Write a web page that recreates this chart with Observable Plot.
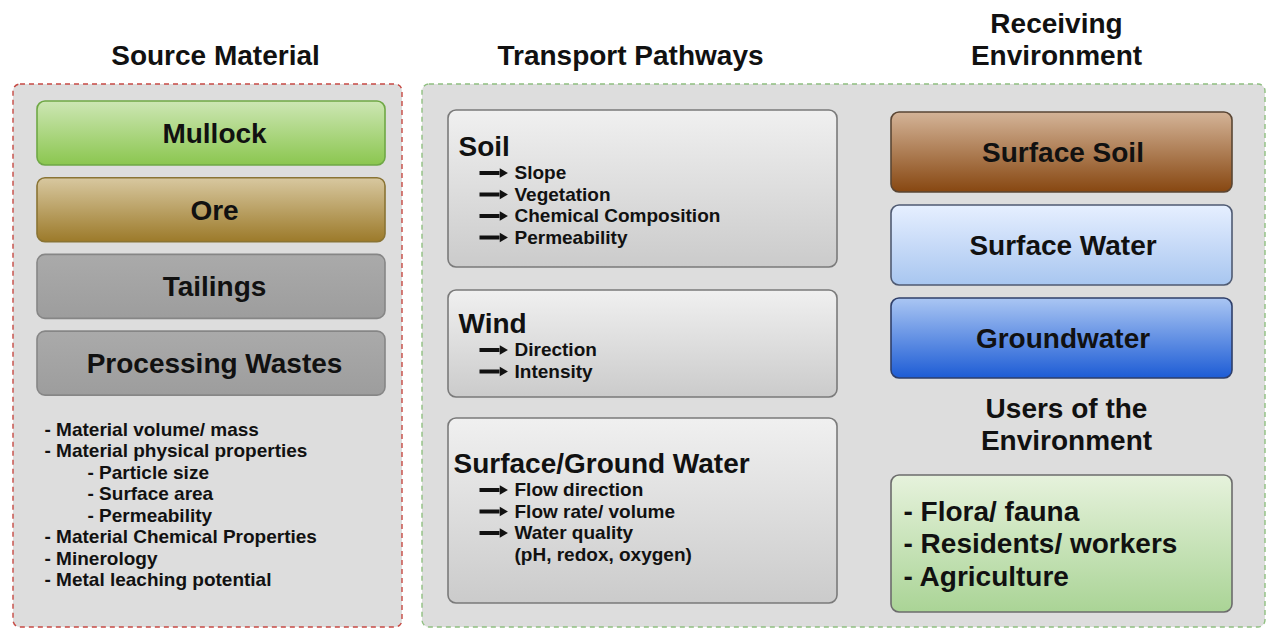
<!DOCTYPE html>
<html><head><meta charset="utf-8">
<script src="https://cdn.jsdelivr.net/npm/d3@7"></script>
<script src="https://cdn.jsdelivr.net/npm/@observablehq/plot@0.6"></script>
<style>html,body{margin:0;padding:0;background:#fff;overflow:hidden}</style>
</head><body><div id="chart"></div>
<script>
// ---------------- data ----------------
const columnTitles = ["Source Material", "Transport Pathways", "Receiving\nEnvironment"];
const sourceMaterials = ["Mullock", "Ore", "Tailings", "Processing Wastes"];
const sourceProperties = ["- Material volume/ mass", "- Material physical properties", "- Particle size", "- Surface area", "- Permeability", "- Material Chemical Properties", "- Minerology", "- Metal leaching potential"];
const sourcePropertyLevel = [0, 0, 1, 1, 1, 0, 0, 0];
const pathwayNames = ["Soil", "Wind", "Surface/Ground Water"];
const soilFactors = ["Slope", "Vegetation", "Chemical Composition", "Permeability"];
const windFactors = ["Direction", "Intensity"];
const waterFactors = ["Flow direction", "Flow rate/ volume", "Water quality"];
const waterNote = "(pH, redox, oxygen)";
const receivingMedia = ["Surface Soil", "Surface Water", "Groundwater"];
const usersTitle = "Users of the\nEnvironment";
const environmentUsers = ["- Flora/ fauna", "- Residents/ workers", "- Agriculture"];

// ---------------- layout & style ----------------
const W = 1267, H = 628;
const font = "Liberation Sans, Arial, Helvetica, sans-serif";
const ink = "#111";
const big = 28, small = 19;
const titleX = [215, 630, 1056], titleY = [54, 54, 38];
const panels = [
  {x1: 13, x2: 402, y1: 84, y2: 627, stroke: "#c64a44"},
  {x1: 422, x2: 1265, y1: 84, y2: 627, stroke: "#8fbf80"}
];
const srcBox = {x1: 37, x2: 385, y1: 101, step: 76.7, h: 64};
const srcFill = ["url(#g-mullock)", "url(#g-ore)", "url(#g-tail)", "url(#g-tail)"];
const srcStroke = ["#6fa845", "#8a7434", "#868686", "#868686"];
const propX = [44, 87], propY0 = 428.5, propStep = 21.45;
const pathBoxes = [{y1: 110, y2: 267, ty: 145, tx: 458}, {y1: 290, y2: 397, ty: 322, tx: 458}, {y1: 418, y2: 603, ty: 462, tx: 453}];
const pathFactors = [soilFactors, windFactors, waterFactors];
const pathX1 = 448, pathX2 = 837, itemX = 514, itemGap = 26.5, itemStep = 21.5;
const arrowX1 = 479, arrowX2 = 499, headX = 502;
const recvBox = {x1: 891, x2: 1232, y1: 112, step: 93, h: 80};
const recvFill = ["url(#g-soil)", "url(#g-sw)", "url(#g-gw)"];
const recvStroke = ["#5a4634", "#4f5a72", "#2f3f6a"];
const usersBox = {x1: 891, x2: 1232, y1: 475, y2: 612};
const usersTitleX = 1066, usersTitleY = 423.5, usersItemX = 903, usersY0 = 510, usersStep = 32.5;

// ---------------- build tables ----------------
const boxes = [];
const texts = [];
const arrows = [];
sourceMaterials.forEach((name, i) => {
  const y1 = srcBox.y1 + i * srcBox.step;
  boxes.push({x1: srcBox.x1, x2: srcBox.x2, y1, y2: y1 + srcBox.h, fill: srcFill[i], stroke: srcStroke[i]});
  texts.push({x: (srcBox.x1 + srcBox.x2) / 2 + 3, y: y1 + srcBox.h / 2 - 1, text: name, size: big, anchor: "middle"});
});
sourceProperties.forEach((p, i) => {
  texts.push({x: propX[sourcePropertyLevel[i]], y: propY0 + i * propStep, text: p, size: small, anchor: "start"});
});
pathwayNames.forEach((name, i) => {
  const b = pathBoxes[i];
  boxes.push({x1: pathX1, x2: pathX2, y1: b.y1, y2: b.y2, fill: "url(#g-path)", stroke: "#7a7a7a"});
  texts.push({x: b.tx, y: b.ty, text: name, size: big, anchor: "start"});
  pathFactors[i].forEach((f, j) => {
    const y = b.ty + itemGap + j * itemStep;
    texts.push({x: itemX, y, text: f, size: small, anchor: "start"});
    arrows.push({x1: arrowX1, x2: arrowX2, hx: headX, y: y + 1});
  });
  if (i === 2) texts.push({x: itemX, y: b.ty + itemGap + pathFactors[i].length * itemStep, text: waterNote, size: small, anchor: "start"});
});
receivingMedia.forEach((name, i) => {
  const y1 = recvBox.y1 + i * recvBox.step;
  boxes.push({x1: recvBox.x1, x2: recvBox.x2, y1, y2: y1 + recvBox.h, fill: recvFill[i], stroke: recvStroke[i]});
  texts.push({x: (recvBox.x1 + recvBox.x2) / 2 + 1, y: y1 + recvBox.h / 2 - 1, text: name, size: big, anchor: "middle"});
});
boxes.push({...usersBox, fill: "url(#g-users)", stroke: "#6c6c6c"});
texts.push({x: usersTitleX, y: usersTitleY, text: usersTitle, size: big, anchor: "middle"});
environmentUsers.forEach((u, i) => texts.push({x: usersItemX, y: usersY0 + i * usersStep, text: u, size: big, anchor: "start"}));
columnTitles.forEach((t, i) => texts.push({x: titleX[i], y: titleY[i], text: t, size: big, anchor: "middle"}));

const textMark = (anchor, size) => Plot.text(texts.filter(d => d.anchor === anchor && d.size === size), {
  x: "x", y: "y", text: "text", textAnchor: anchor, lineAnchor: "middle", lineHeight: 1.15,
  fontSize: size, fontWeight: "bold", fontFamily: font, fill: ink
});

const chart = Plot.plot({
  width: W, height: H, margin: 0,
  x: {domain: [0, W], range: [0, W], axis: null},
  y: {domain: [0, H], range: [0, H], axis: null},
  color: {type: "identity"},
  style: {background: "#fff", fontFamily: font, overflow: "visible"},
  marks: [
    Plot.rect(panels, {x1: "x1", x2: "x2", y1: "y1", y2: "y2", fill: "#dddddd", stroke: "stroke", strokeWidth: 1.4, strokeDasharray: "5,4", rx: 7}),
    Plot.rect(boxes, {x1: "x1", x2: "x2", y1: "y1", y2: "y2", fill: "fill", stroke: "stroke", strokeWidth: 1.6, rx: 8}),
    Plot.link(arrows, {x1: "x1", x2: "x2", y1: "y", y2: "y", stroke: ink, strokeWidth: 4}),
    Plot.dot(arrows, {x: "hx", y: "y", symbol: "triangle2", rotate: 90, r: 4.5, fill: ink, stroke: "none"}),
    textMark("middle", big), textMark("start", big), textMark("start", small)
  ]
});

const grads = {
  "g-mullock": ["#cde6b4", "#8bc64f"],
  "g-ore": ["#d8c8a0", "#9c7a2a"],
  "g-tail": ["#aaaaaa", "#9d9d9d"],
  "g-path": ["#f0f0f0", "#cbcbcb"],
  "g-soil": ["#d4b498", "#874711"],
  "g-sw": ["#e6efff", "#a8c6f0"],
  "g-gw": ["#aac6f3", "#1d5cd5"],
  "g-users": ["#e6f2dc", "#aad496"]
};
const defs = d3.select(chart).insert("defs", ":first-child");
for (const [id, [a, b]] of Object.entries(grads)) {
  const g = defs.append("linearGradient").attr("id", id).attr("x1", 0).attr("y1", 0).attr("x2", 0).attr("y2", 1);
  g.append("stop").attr("offset", "0%").attr("stop-color", a);
  g.append("stop").attr("offset", "100%").attr("stop-color", b);
}
document.getElementById("chart").appendChild(chart);
</script>
</body></html>
